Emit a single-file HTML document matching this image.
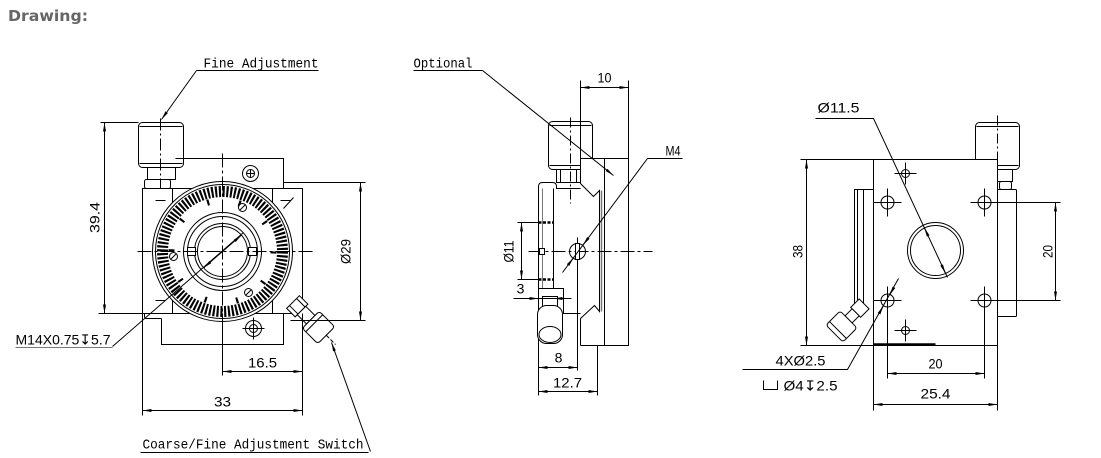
<!DOCTYPE html>
<html><head><meta charset="utf-8"><style>
html,body{margin:0;padding:0;background:#fff;width:1101px;height:458px;overflow:hidden}
svg{display:block}
.t{font-family:"Liberation Mono","DejaVu Sans Mono",monospace;font-size:14px;fill:#000;stroke:none}
.d{font-family:"Liberation Sans","DejaVu Sans",sans-serif;font-size:14px;fill:#000;stroke:none}
</style></head><body>
<svg width="1101" height="458" viewBox="0 0 1101 458" xmlns="http://www.w3.org/2000/svg">
<defs>
<marker id="a" markerUnits="userSpaceOnUse" markerWidth="10" markerHeight="6" refX="9" refY="3" orient="auto-start-reverse"><path d="M0,1.5 L9,3 L0,4.5z" fill="#000" stroke="none"/></marker>
</defs>
<text x="8" y="21" font-family="'DejaVu Sans',Verdana,sans-serif" font-weight="bold" font-size="15" fill="#666" textLength="80" lengthAdjust="spacingAndGlyphs">Drawing:</text>
<g transform="translate(0.5,0.5)" fill="none" stroke="#000" stroke-width="1">

<!-- ================= VIEW 1 ================= -->
<text class="t" x="203" y="67" textLength="115" lengthAdjust="spacingAndGlyphs">Fine Adjustment</text>
<path d="M196,70 H318"/>
<line x1="196" y1="70" x2="161" y2="119" marker-end="url(#a)"/>
<rect x="138" y="122" width="45" height="45" rx="4" fill="#fff"/>
<path d="M139,126 H182 M139,163 H182"/>
<rect x="147" y="167" width="28" height="12" fill="#fff"/>
<rect x="144" y="179" width="26" height="9" rx="2" fill="#fff"/>
<path d="M160,118 V205" stroke-dasharray="12 3 2 3"/>
<path d="M175,158 H283 V188"/>
<circle cx="250" cy="173" r="8" fill="#fff"/><circle cx="250" cy="173" r="4"/><path d="M246,173 H254 M250,169 V177"/>
<rect x="142" y="188" width="160" height="125" fill="#fff"/>
<path d="M172,188 V313 M272,188 V313"/>
<path d="M155,200 H165 M280,200 H290 M155,300 H165"/>
<path d="M161,318 V344 H283 V313"/>
<path d="M144,313 V316 Q144,318 146,318 H161"/>
<circle cx="253" cy="328" r="8" fill="#fff"/><circle cx="253" cy="328" r="4"/><path d="M242,328 H264 M253,317 V339"/>
<circle cx="222" cy="251" r="70" fill="#fff"/>
<circle cx="222" cy="251" r="67"/>
<circle cx="222" cy="251" r="60" stroke-width="11" stroke-dasharray="2.1 1.67"/>
<circle cx="222" cy="251" r="51" stroke-width="6" stroke-dasharray="2.1 29.944"/>
<circle cx="222" cy="251" r="39" fill="#fff"/>
<circle cx="222" cy="251" r="35"/>
<circle cx="222" cy="251" r="28"/>
<circle cx="222" cy="251" r="25"/>
<rect x="187" y="247" width="8" height="8" fill="#fff"/>
<rect x="248" y="247" width="8" height="8" fill="#fff"/>
<circle cx="173" cy="256" r="4" fill="#fff"/><path d="M170,259 L176,253"/>
<circle cx="242" cy="207" r="4" fill="#fff"/><path d="M239,210 L245,204"/>
<circle cx="248" cy="292" r="4" fill="#fff"/><path d="M245,295 L251,289"/>
<path d="M283,208 L293,197"/>
<path d="M137,251 H313" stroke-dasharray="14 3 3 3"/>
<path d="M222,153 V313" stroke-dasharray="14 3 3 3"/>
<path d="M222,313 V375"/>
<path d="M112,346 L243,232"/>
<line x1="222" y1="251" x2="240.9" y2="234.6" marker-end="url(#a)"/>
<line x1="222" y1="251" x2="203.1" y2="267.4" marker-end="url(#a)"/>
<text class="d" x="15" y="344" textLength="95" lengthAdjust="spacingAndGlyphs">M14X0.75↧5.7</text>
<path d="M15,347 H112" stroke="#777"/>
<g transform="rotate(45 318 327)">
<rect x="282" y="318" width="12" height="18" fill="#fff"/>
<path d="M282,322 H294 M282,332 H294"/>
<rect x="294" y="321" width="13" height="12" fill="#fff"/>
<rect x="307" y="315" width="22" height="24" rx="3" fill="#fff"/>
<path d="M312,315 V339"/>
<path d="M329,327 H342" stroke-dasharray="4 2"/>
</g>
<path d="M100,122 H138 M98,313 H142"/>
<line x1="104" y1="122" x2="104" y2="313" marker-start="url(#a)" marker-end="url(#a)"/>
<text class="d" transform="translate(99,217) rotate(-90)" text-anchor="middle" textLength="31" lengthAdjust="spacingAndGlyphs">39.4</text>
<path d="M283,182 H365 M290,320 H365"/>
<line x1="360" y1="182" x2="360" y2="320" marker-start="url(#a)" marker-end="url(#a)"/>
<text class="d" transform="translate(350,251) rotate(-90)" text-anchor="middle" textLength="25" lengthAdjust="spacingAndGlyphs">Ø29</text>
<path d="M302,313 V415 M142,313 V415"/>
<line x1="222" y1="371" x2="302" y2="371" marker-start="url(#a)" marker-end="url(#a)"/>
<text class="d" x="262" y="367" text-anchor="middle" textLength="29" lengthAdjust="spacingAndGlyphs">16.5</text>
<line x1="142" y1="410" x2="302" y2="410" marker-start="url(#a)" marker-end="url(#a)"/>
<text class="d" x="222" y="406" text-anchor="middle" textLength="17" lengthAdjust="spacingAndGlyphs">33</text>
<text class="t" x="142" y="448" textLength="221" lengthAdjust="spacingAndGlyphs">Coarse/Fine Adjustment Switch</text>
<path d="M140,452 H368"/>
<line x1="370" y1="451" x2="331" y2="342" marker-end="url(#a)"/>

<!-- ================= VIEW 2 ================= -->
<rect x="548" y="121" width="44" height="48" rx="4" fill="#fff"/>
<path d="M549,125 H591 M549,165 H591"/>
<rect x="556" y="169" width="24" height="13" fill="#fff"/>
<path d="M560,169 V182 M576,169 V182"/>
<rect x="580" y="158" width="48" height="187" fill="#fff" stroke="none"/>
<path d="M580,158 V183 L593,196 L599,190 V311 L594,305 L580,318 V345"/>
<path d="M601,190 V311" stroke="#777" stroke-width="1.5"/>
<path d="M604,158 V345 M580,158 H628 V345 H580"/>
<path d="M538,395 V186 Q538,182 542,182 H552 Q556,182 556,186 V188 H580"/>
<path d="M542,188 V288" stroke="#777"/>
<path d="M553,188 V288"/>
<path d="M538,222 H553 M538,279 H553" stroke-width="2.5" stroke-dasharray="3 1.5"/>
<path d="M538,288 H563 V313 H580"/>
<path d="M570,117 V203" stroke-dasharray="10 3 2 3"/>
<rect x="542" y="296" width="15" height="12" fill="#fff"/>
<rect x="537" y="305" width="25" height="38" rx="9" fill="#fff"/>
<ellipse cx="549.5" cy="334" rx="11" ry="8"/>
<path d="M528,251 H652" stroke-dasharray="14 3 3 3"/>
<path d="M577,237 V370"/>
<circle cx="577" cy="251" r="8"/>
<rect x="575" y="243" width="4" height="16" fill="#fff"/>
<rect x="539" y="248" width="5" height="6" fill="#fff"/>
<path d="M580,80 V158 M628,80 V158"/>
<line x1="580" y1="87" x2="628" y2="87" marker-start="url(#a)" marker-end="url(#a)"/>
<text class="d" x="604" y="82" text-anchor="middle" textLength="14" lengthAdjust="spacingAndGlyphs">10</text>
<path d="M517,222 H538 M517,279 H538"/>
<line x1="521" y1="222" x2="521" y2="279" marker-start="url(#a)" marker-end="url(#a)"/>
<text class="d" transform="translate(513,251) rotate(-90)" text-anchor="middle" textLength="22" lengthAdjust="spacingAndGlyphs">Ø11</text>
<path d="M513,298 H571"/>
<line x1="528" y1="298" x2="538" y2="298" marker-end="url(#a)"/>
<line x1="563" y1="298" x2="553" y2="298" marker-end="url(#a)"/>
<text class="d" x="520" y="293" text-anchor="middle">3</text>
<line x1="538" y1="367" x2="577" y2="367" marker-start="url(#a)" marker-end="url(#a)"/>
<text class="d" x="558" y="362" text-anchor="middle">8</text>
<path d="M597,345 V395"/>
<line x1="538" y1="391" x2="597" y2="391" marker-start="url(#a)" marker-end="url(#a)"/>
<text class="d" x="567" y="387" text-anchor="middle" textLength="29" lengthAdjust="spacingAndGlyphs">12.7</text>
<text class="t" x="413" y="67" textLength="59" lengthAdjust="spacingAndGlyphs">Optional</text>
<path d="M413,70 H482"/>
<line x1="482" y1="70" x2="613" y2="175" marker-end="url(#a)"/>
<text class="d" x="665" y="155" textLength="15" lengthAdjust="spacingAndGlyphs">M4</text>
<path d="M647,158 H682"/>
<path d="M647,158 L562,272"/>
<line x1="587.9" y1="237.4" x2="582.5" y2="244.6" marker-end="url(#a)"/>
<line x1="567.5" y1="264.6" x2="572.9" y2="257.4" marker-end="url(#a)"/>

<!-- ================= VIEW 3 ================= -->
<rect x="975" y="122" width="44" height="47" rx="4" fill="#fff"/>
<path d="M976,126 H1018 M976,165 H1018"/>
<rect x="997" y="169" width="15" height="12" fill="#fff"/>
<rect x="999" y="181" width="12" height="8" rx="2" fill="#fff"/>
<rect x="997" y="189" width="19" height="127" rx="1" fill="#fff"/>
<path d="M997,115 V200" stroke-dasharray="10 3 2 3"/>
<rect x="873" y="159" width="124" height="186" fill="#fff"/>
<rect x="854" y="189" width="9" height="124" fill="#fff"/>
<path d="M857,189 V313 M863,189 H873"/>
<g transform="rotate(135 841 326)">
<rect x="809" y="319" width="12" height="14" fill="#fff"/>
<rect x="821" y="321" width="10" height="10" fill="#fff"/>
<rect x="831" y="314" width="20" height="24" rx="3" fill="#fff"/>
<path d="M846,314 V338"/>
</g>
<circle cx="935" cy="250" r="28"/>
<circle cx="935" cy="250" r="25"/>
<path d="M873,202 H901 M887,188 V216 M970,202 H998 M984,188 V216 M873,300 H901 M887,286 V314 M970,300 H998 M984,286 V314"/>
<circle cx="887" cy="202" r="6.5"/><circle cx="984" cy="202" r="6.5"/>
<circle cx="887" cy="300" r="6.5"/><circle cx="984" cy="300" r="6.5"/>
<path d="M894,173 H916 M905,162 V184 M894,330 H916 M905,319 V341"/>
<circle cx="905" cy="173" r="4"/><circle cx="905" cy="330" r="4"/>
<path d="M873,344 H935" stroke-width="2.5"/>
<path d="M800,159 H873 M800,345 H873"/>
<line x1="806" y1="159" x2="806" y2="345" marker-start="url(#a)" marker-end="url(#a)"/>
<text class="d" transform="translate(802,251) rotate(-90)" text-anchor="middle" textLength="13" lengthAdjust="spacingAndGlyphs">38</text>
<path d="M997,202 H1060 M997,300 H1060"/>
<line x1="1055" y1="202" x2="1055" y2="300" marker-start="url(#a)" marker-end="url(#a)"/>
<text class="d" transform="translate(1052,251) rotate(-90)" text-anchor="middle" textLength="13" lengthAdjust="spacingAndGlyphs">20</text>
<path d="M887,314 V378 M984,314 V378 M873,345 V410 M997,316 V410"/>
<line x1="887" y1="373" x2="984" y2="373" marker-start="url(#a)" marker-end="url(#a)"/>
<text class="d" x="935" y="368" text-anchor="middle" textLength="14" lengthAdjust="spacingAndGlyphs">20</text>
<line x1="873" y1="404" x2="997" y2="404" marker-start="url(#a)" marker-end="url(#a)"/>
<text class="d" x="935" y="398" text-anchor="middle" textLength="30" lengthAdjust="spacingAndGlyphs">25.4</text>
<text class="d" x="817" y="112" textLength="42" lengthAdjust="spacingAndGlyphs">Ø11.5</text>
<path d="M815,118 H873 L947,277"/>
<line x1="927.7" y1="235.5" x2="923.9" y2="227.3" marker-end="url(#a)"/>
<line x1="941.1" y1="264.5" x2="944.9" y2="272.7" marker-end="url(#a)"/>
<text class="d" x="775" y="365" textLength="50" lengthAdjust="spacingAndGlyphs">4XØ2.5</text>
<path d="M742,369 H847 L898,278"/>
<line x1="893.5" y1="286.8" x2="889.1" y2="294.6" marker-end="url(#a)"/>
<line x1="878.5" y1="313.2" x2="882.9" y2="305.4" marker-end="url(#a)"/>
<path d="M763,380 V389 H777 V380"/>
<text class="d" x="783" y="390" textLength="54" lengthAdjust="spacingAndGlyphs">Ø4↧2.5</text>
</g>
</svg>
</body></html>
